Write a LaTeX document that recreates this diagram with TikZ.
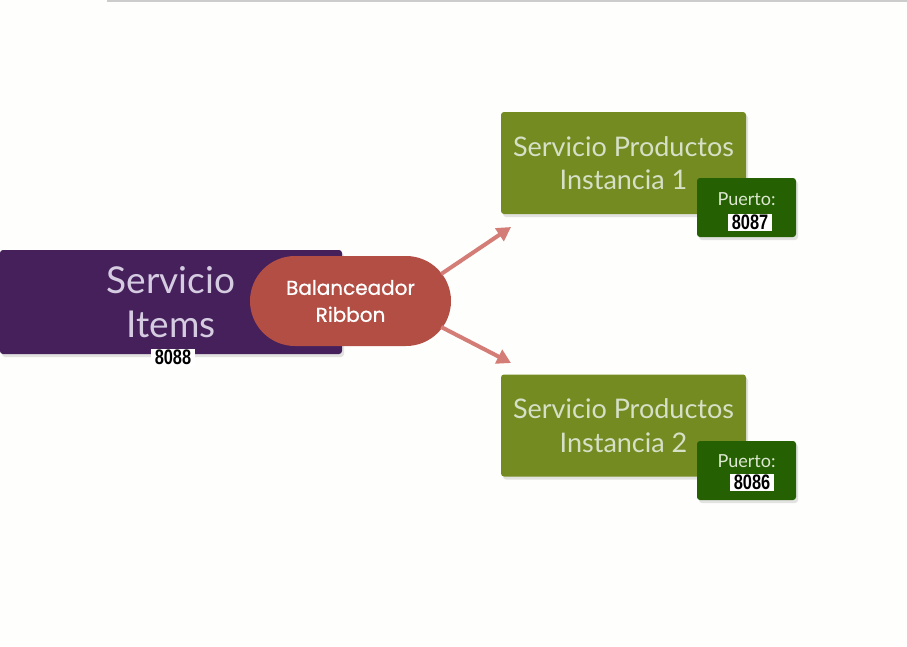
\documentclass[tikz,border=0pt]{standalone}
\usepackage{fontspec}
\setmainfont{Lato}
\newfontfamily\pillfont{Poppins}[FakeBold=0.9]
\newfontfamily\numfont{Liberation Sans}
\usetikzlibrary{arrows.meta,calc,shadows,shapes.misc}
\definecolor{itempurple}{HTML}{45205B}
\definecolor{itemtext}{HTML}{D6CCE2}
\definecolor{ribbonred}{HTML}{B34E45}
\definecolor{arrowred}{HTML}{D47C76}
\definecolor{prodgreen}{HTML}{748B22}
\definecolor{prodtext}{HTML}{D6E0C6}
\definecolor{portgreen}{HTML}{256002}
\definecolor{porttext}{HTML}{DCE8D0}
\definecolor{paper}{HTML}{FEFEFD}

\begin{document}
\begin{tikzpicture}[x=1pt,y=-1pt,
  box/.style={rectangle,rounded corners=3pt,inner sep=0pt,align=center,
    drop shadow={opacity=0.22,shadow xshift=2pt,shadow yshift=-3pt}},
  itembox/.style={box,fill=itempurple,text=itemtext,minimum width=342pt,minimum height=104pt,
    font=\fontsize{37}{44}\selectfont},
  prodbox/.style={box,fill=prodgreen,text=prodtext,minimum width=245pt,minimum height=102pt,
    font=\fontsize{27}{33.5}\selectfont},
  portbox/.style={box,fill=portgreen,minimum width=99pt,minimum height=59pt},
  portlabel/.style={text=porttext,inner sep=0pt,font=\fontsize{18}{20}\selectfont},
  portnum/.style={fill=white,text=black,inner sep=0pt,minimum width=44pt,minimum height=17pt,
    font=\numfont\bfseries\fontsize{21}{21}\selectfont},
  pill/.style={rounded rectangle,fill=ribbonred,text=white,align=center,inner sep=0pt,
    minimum width=201pt,minimum height=90pt,font=\pillfont\fontsize{20}{27}\selectfont},
  conn/.style={draw=arrowred,line width=4pt,-{Triangle[length=14pt,width=15pt]}}]
\fill[paper] (0,0) rectangle (907,646);
\useasboundingbox (0,0) rectangle (907,646);
% top rule
\draw[black!20,line width=1.5pt] (107,1) -- (907,1);
% calling service
\node[itembox] (items) at (171,302) {Servicio\\Items};
\node[portnum] (itemsport) at (173,357) {\scalebox{0.78}[1]{8088}};
% load balancer
\node[pill] (ribbon) at (350.5,301) {Balanceador\\Ribbon};
% instances
\node[prodbox] (prod1) at (623.5,163) {Servicio Productos\\Instancia 1};
\node[portbox] (port1) at (746.5,207.5) {};
\node[portlabel] (port1lbl) at (746.5,199) {Puerto:};
\node[portnum] (port1num) at (750,222) {\scalebox{0.78}[1]{8087}};
\node[prodbox] (prod2) at (623.5,425.5) {Servicio Productos\\Instancia 2};
\node[portbox] (port2) at (746.5,470.5) {};
\node[portlabel] (port2lbl) at (746.5,461) {Puerto:};
\node[portnum] (port2num) at (752,482) {\scalebox{0.78}[1]{8086}};
% arrows
\coordinate (tip1) at (511,227);
\coordinate (tip2) at (511,363);
\draw[conn] ($(ribbon.east)+(-10,-27)$) -- (tip1);
\draw[conn] ($(ribbon.east)+(-10,26)$) -- (tip2);
\end{tikzpicture}
\end{document}
